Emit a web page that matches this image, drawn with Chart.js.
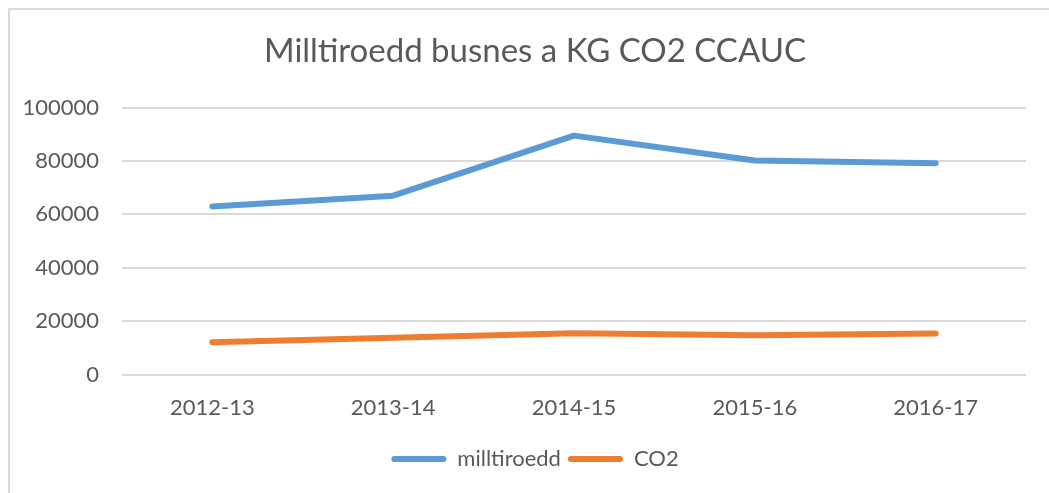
<!DOCTYPE html>
<html>
<head>
<meta charset="utf-8">
<script src="https://cdn.jsdelivr.net/npm/chart.js@4/dist/chart.umd.min.js"></script>
<style>
    html, body { margin: 0; padding: 0; background: #fff; }
    #wrap { position: relative; width: 1049px; height: 493px; overflow: hidden; }
    #frame { position: absolute; left: 8px; top: 8px; width: 1060px; height: 500px; border: 2px solid #d9d9d9; box-sizing: border-box; }
    #chart { position: absolute; left: 0; top: 0; }
</style>
</head>
<body>
<div id="wrap">
    <div id="frame"></div>
    <canvas id="chart" width="1049" height="493"></canvas>
</div>
<script>
// Data dibaca dari gambar referensi.
const years = ['2012-13', '2013-14', '2014-15', '2015-16', '2016-17'];
const milltiroedd = [63000, 67000, 89500, 80200, 79200];
const co2 = [12100, 13800, 15500, 14700, 15400];
const yTicks = [0, 20000, 40000, 60000, 80000, 100000];

const textColor = '#595959';
const fontFamily = 'Lato, "Open Sans", sans-serif';

const ctx = document.getElementById('chart').getContext('2d');

// Label sumbu Y digambar "mirror" supaya tidak terpotong oleh kotak sumbu yang sempit.
ctx.font = '22px ' + fontFamily;
const widestTick = ctx.measureText('100000').width;

new Chart(ctx, {
    type: 'line',
    data: {
        labels: years,
        datasets: [
            {
                label: 'milltiroedd',
                data: milltiroedd,
                borderColor: '#5B9BD5',
                backgroundColor: '#5B9BD5',
                borderWidth: 6,
                borderCapStyle: 'round',
                borderJoinStyle: 'round',
                pointRadius: 0,
                tension: 0
            },
            {
                label: 'CO2',
                data: co2,
                borderColor: '#ED7D31',
                backgroundColor: '#ED7D31',
                borderWidth: 6,
                borderCapStyle: 'round',
                borderJoinStyle: 'round',
                pointRadius: 0,
                tension: 0
            }
        ]
    },
    options: {
        responsive: false,
        animation: false,
        layout: { padding: { top: 32, right: 23, left: 44, bottom: 13 } },
        plugins: {
            title: {
                display: true,
                text: 'Milltiroedd busnes a KG CO2 CCAUC',
                color: textColor,
                font: { family: fontFamily, size: 33, weight: 'normal' },
                padding: { top: 0, bottom: 36 }
            },
            legend: {
                position: 'bottom',
                labels: {
                    color: textColor,
                    font: { family: fontFamily, size: 22 },
                    boxWidth: 55,
                    boxHeight: 6,
                    padding: 7,
                    generateLabels: (chart) => chart.data.datasets.map((d, i) => ({
                        text: d.label,
                        fillStyle: d.borderColor,
                        strokeStyle: d.borderColor,
                        lineWidth: 0,
                        fontColor: textColor,
                        datasetIndex: i,
                        hidden: false,
                        borderRadius: 3
                    }))
                }
            },
            tooltip: { enabled: false }
        },
        scales: {
            x: {
                offset: true,
                grid: { display: false, drawTicks: false },
                border: { display: false },
                ticks: {
                    color: textColor,
                    font: { family: fontFamily, size: 22 },
                    padding: 20
                }
            },
            y: {
                min: 0,
                max: 100000,
                afterBuildTicks: (axis) => { axis.ticks = yTicks.map(v => ({ value: v })); },
                afterFit: (axis) => { axis.width = 78; },
                grid: { color: '#d9d9d9', lineWidth: 2, drawTicks: false },
                border: { display: false },
                ticks: {
                    color: textColor,
                    font: { family: fontFamily, size: 22 },
                    mirror: true,
                    crossAlign: 'far',
                    padding: -(23 + widestTick),
                    callback: (v) => String(v)
                }
            }
        }
    }
});
</script>
</body>
</html>
